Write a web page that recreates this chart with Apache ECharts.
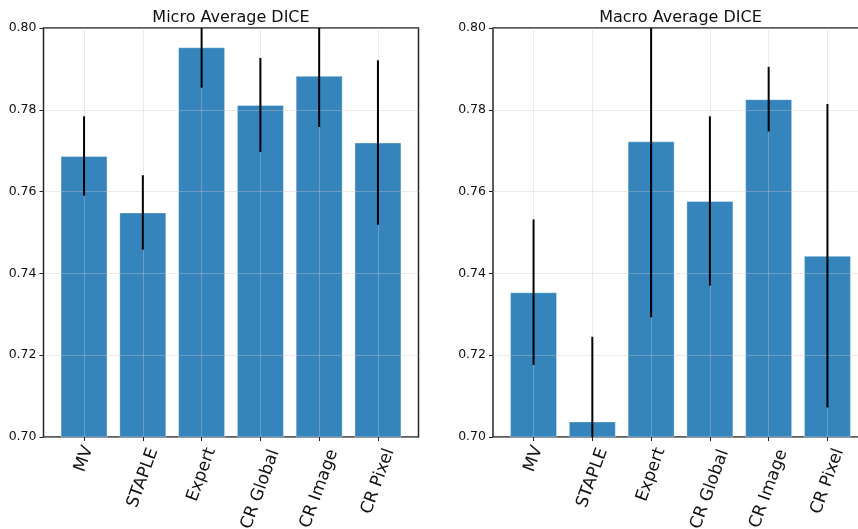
<!DOCTYPE html>
<html>
<head>
<meta charset="utf-8">
<script src="https://cdn.jsdelivr.net/npm/echarts@6/dist/echarts.min.js"></script>
<style>
html,body{margin:0;padding:0;background:#fff;}
#chart{width:858px;height:529px;}
</style>
</head>
<body>
<div id="chart"></div>
<script>
// ---- data ----
const categories = ['MV', 'STAPLE', 'Expert', 'CR Global', 'CR Image', 'CR Pixel'];
const microMean = [0.7687, 0.7549, 0.7953, 0.7812, 0.7883, 0.7720];
const microErr  = [0.0097, 0.0091, 0.0099, 0.0115, 0.0125, 0.0201];
const macroMean = [0.7354, 0.7038, 0.7723, 0.7577, 0.7826, 0.7443];
const macroErr  = [0.0178, 0.0207, 0.0430, 0.0207, 0.0079, 0.0371];
const yTicks = [0.70, 0.72, 0.74, 0.76, 0.78, 0.80];
const titles = ['Micro Average DICE', 'Macro Average DICE'];

// ---- helpers ----
const FONT = 'DejaVu Sans';
const ctx = document.createElement('canvas').getContext('2d');
ctx.font = '17px "' + FONT + '"';
const rich = {};
categories.forEach((c, i) => {
  const w = ctx.measureText(c).width;
  rich['c' + i] = {fontSize: 17, fontFamily: FONT, color: '#111', padding: [0.364 * w, 0, 0, 0]};
});

const yMin = yTicks[0], yMax = yTicks[yTicks.length - 1];
const xMin = -0.69, xMax = 5.69;
const idx = categories.map((c, i) => i);

const grids = [
  {left: 43.5, top: 28, width: 375, height: 409},
  {left: 493, top: 28, width: 375, height: 409}
];

const gridLine = {show: true, lineStyle: {color: 'rgba(200,200,200,0.38)', width: 1}};

function makeX(gi) {
  return {
    type: 'value', gridIndex: gi, min: xMin, max: xMax, z: 3, position: 'bottom',
    axisLine: {show: false, onZero: false},
    axisTick: {show: true, customValues: idx, length: 4, inside: false, lineStyle: {color: '#222', width: 1}},
    axisLabel: {
      customValues: idx, rotate: 70, margin: 8, hideOverlap: false,
      formatter: v => { const i = Math.round(v); return '{c' + i + '|' + categories[i] + '}'; },
      rich: rich
    },
    splitLine: gridLine
  };
}
function makeY(gi) {
  return {
    type: 'value', gridIndex: gi, min: yMin, max: yMax, interval: 0.02, z: 3, position: 'left',
    axisLine: {show: false, onZero: false},
    axisTick: {show: true, length: 4, inside: false, lineStyle: {color: '#222', width: 1}},
    axisLabel: {margin: 7, fontSize: 12.5, fontFamily: FONT, color: '#111', formatter: v => v.toFixed(2)},
    splitLine: gridLine
  };
}

function barSeries(gi, means) {
  return {
    type: 'bar', xAxisIndex: gi, yAxisIndex: gi, barWidth: 47, clip: true, z: 2,
    data: means.map((m, i) => [i, m]),
    itemStyle: {color: '#3584bc', borderColor: 'rgba(255,255,255,0.35)', borderWidth: 1}
  };
}
function errSeries(gi, means, errs) {
  return {
    type: 'custom', xAxisIndex: gi, yAxisIndex: gi, z: 5, clip: true,
    data: means.map((m, i) => [i, m, errs[i]]),
    renderItem: (params, api) => {
      const x = api.value(0), m = api.value(1), e = api.value(2);
      const lo = Math.max(yMin, m - e), hi = Math.min(yMax, m + e);
      const p1 = api.coord([x, lo]), p2 = api.coord([x, hi]);
      return {type: 'line', shape: {x1: p1[0], y1: p1[1], x2: p2[0], y2: p2[1]},
              style: {stroke: '#000', lineWidth: 2}};
    }
  };
}

const chart = echarts.init(document.getElementById('chart'), null, {renderer: 'canvas'});
chart.setOption({
  animation: false,
  backgroundColor: '#fff',
  grid: grids.map(g => Object.assign({show: true, borderColor: '#262626', borderWidth: 1.5,
    backgroundColor: 'transparent', containLabel: false, outerBoundsMode: 'none'}, g)),
  xAxis: [makeX(0), makeX(1)],
  yAxis: [makeY(0), makeY(1)],
  graphic: grids.map((g, i) => ({
    type: 'text', x: g.left + g.width / 2, y: 18, z: 10,
    style: {text: titles[i], fontSize: 16, fontFamily: FONT, fill: '#111',
            align: 'center', verticalAlign: 'middle', textAlign: 'center', textVerticalAlign: 'middle'}
  })),
  series: [
    barSeries(0, microMean), errSeries(0, microMean, microErr),
    barSeries(1, macroMean), errSeries(1, macroMean, macroErr)
  ]
});
</script>
</body>
</html>
